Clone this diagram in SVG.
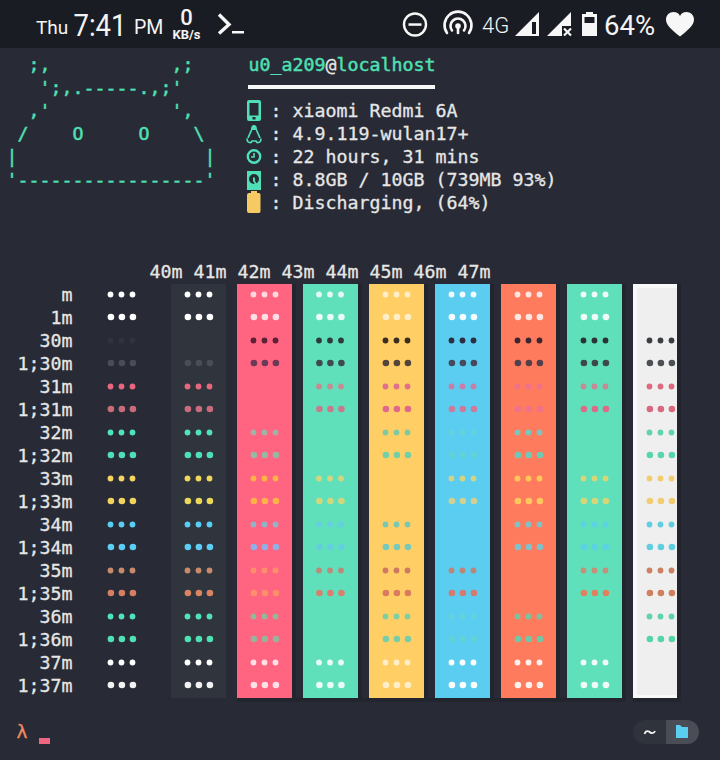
<svg xmlns="http://www.w3.org/2000/svg" xmlns:xlink="http://www.w3.org/1999/xlink" width="720" height="760" viewBox="0 0 720 760">
<style>
text{font-family:"DejaVu Sans Mono","Liberation Mono",monospace;font-size:18.27px;fill:#e6e6e6;stroke:#e6e6e6;stroke-width:.3px;white-space:pre}
.g{fill:#4fe0b5;stroke:#4fe0b5;stroke-width:.45px}
.s{font-family:Roboto,"Liberation Sans",sans-serif;fill:#f4f4f4;stroke:none}
.r{text-anchor:end}
.ic{fill:#4fe0b5}
.w{fill:#f7f7f7}
.wl{fill:none;stroke:#f7f7f7}
</style>
<defs>
<g id="a"><circle cx="-11" r="2.9"/><circle r="2.9"/><circle cx="11" r="2.9"/></g>
<g id="b"><circle cx="-10.6" r="3.300"/><circle cx="0.4" r="3.300"/><circle cx="11.4" r="3.300"/></g>
</defs>
<rect width="720" height="760" fill="#282b36"/>
<rect width="720" height="48" fill="#1a1c23"/>

<g id="statusbar">
<text class="s" x="36" y="34" style="font-size:19px">Thu</text>
<text class="s" x="73.500" y="36" style="font-size:30.500px;font-weight:400" textLength="53" lengthAdjust="spacingAndGlyphs">7:41</text>
<text class="s" x="134" y="34" style="font-size:19.500px">PM</text>
<text class="s" x="186.500" y="25" text-anchor="middle" style="font-size:22px;font-weight:500">0</text>
<text class="s" x="186.500" y="38.500" text-anchor="middle" style="font-size:13px;font-weight:700">KB/s</text>
<path class="wl" stroke-width="3.400" d="M219 14.500L229 24.500L219 33.500"/>
<rect class="w" x="232" y="31" width="12" height="2.500"/>
<circle class="wl" cx="415" cy="24.500" r="11" stroke-width="2.400"/>
<rect class="w" x="408.500" y="23.300" width="13" height="2.500"/>
<g class="wl" stroke-width="2.600" stroke-linecap="round">
<path d="M447 33A13.500 13.500 0 1 1 469 33"/>
<path d="M452 30.500A7.500 7.500 0 1 1 464 30.500"/>
<circle cx="458" cy="26" r="1.500"/>
<path d="M458 26V33"/>
</g>
<text class="s" x="482" y="33" style="font-size:22px;font-weight:300">4G</text>
<path class="w" d="M515 36L539 12V36Z"/>
<rect x="532" y="22" width="4" height="12" fill="#1a1c23"/>
<path class="w" d="M547 36L571 12V26H562V36Z"/>
<path class="wl" stroke-width="2.200" d="M564 28.500L571 35.500M571 28.500L564 35.500"/>
<path class="w" d="M586 12H593V14H597V36H582V14H586Z"/>
<rect x="584.500" y="17" width="10" height="6" fill="#1a1c23"/>
<text class="s" x="604" y="35" style="font-size:27.500px;font-weight:400">64%</text>
<path class="w" d="M680 36.500C672 30 666 25.500 666 19.500C666 15 669.500 12 673.500 12C676.500 12 679 13.500 680 16C681 13.500 683.500 12 686.500 12C690.500 12 694 15 694 19.500C694 25.500 688 30 680 36.500Z"/>
</g>

<g id="ascii-art">
<text class="g" x="6.500" y="71">  ;,           ,;</text>
<text class="g" x="6.500" y="94">   ';,.-----.,;'</text>
<text class="g" x="6.500" y="117">  ,'           ',</text>
<text class="g" x="6.500" y="140"> /    O     O    \</text>
<text class="g" x="6.500" y="163">|                 |</text>
<text class="g" x="6.500" y="186">'-----------------'</text>
</g>

<g id="sysinfo">
<text x="248.500" y="71"><tspan class="g">u0_a209</tspan>@<tspan class="g">localhost</tspan></text>
<rect class="w" x="248" y="85" width="187" height="4"/>
<text x="270.500" y="117">: xiaomi Redmi 6A</text>
<text x="270.500" y="140">: 4.9.119-wulan17+</text>
<text x="270.500" y="163">: 22 hours, 31 mins</text>
<text x="270.500" y="186">: 8.8GB / 10GB (739MB 93%)</text>
<text x="270.500" y="209">: Discharging, (64%)</text>
<path class="ic" fill-rule="evenodd" d="M249 100H259Q261 100 261 102V119Q261 121 259 121H249Q247 121 247 119V102Q247 100 249 100ZM249.500 103V115.500H258.500V103ZM252.500 117H255.500V119.500H252.500Z"/>
<path class="ic" d="M254 125C251.500 125 251 127.500 251 130H257C257 127.500 256.500 125 254 125Z"/>
<path d="M251.500 130L248 138M256.500 130L260 138" fill="none" stroke="#4fe0b5" stroke-width="1.700"/>
<path d="M247 138.500Q247 143 251 142.500L252 141H256L257 142.500Q261 143 261 138.500" fill="none" stroke="#4fe0b5" stroke-width="1.700"/>
<circle cx="254" cy="156.500" r="6.200" fill="none" stroke="#4fe0b5" stroke-width="2.400"/>
<path d="M254 153V157H251" fill="none" stroke="#4fe0b5" stroke-width="1.600"/>
<path class="ic" fill-rule="evenodd" d="M247 171H261V190H247ZM254 174A5 5 0 1 0 254 184A5 5 0 1 0 254 174Z"/>
<path class="ic" d="M253 177.500H255V181L258 186H256L253 181Z"/>
<path fill="#f5ca63" d="M251 191H257V193H259Q260.500 193 260.500 195V211Q260.500 213 259 213H249Q247 213 247 211V195Q247 193 249 193H251Z"/>
</g>

<g id="header">
<text x="149.500" y="278">40m</text><text x="193.500" y="278">41m</text><text x="237.500" y="278">42m</text><text x="281.500" y="278">43m</text><text x="325.500" y="278">44m</text><text x="369.500" y="278">45m</text><text x="413.500" y="278">46m</text><text x="457.500" y="278">47m</text>
</g>

<g id="row-labels">
<text class="r" x="72.500" y="301">m</text>
<text class="r" x="72.500" y="324">1m</text>
<text class="r" x="72.500" y="347">30m</text>
<text class="r" x="72.500" y="370">1;30m</text>
<text class="r" x="72.500" y="393">31m</text>
<text class="r" x="72.500" y="416">1;31m</text>
<text class="r" x="72.500" y="439">32m</text>
<text class="r" x="72.500" y="462">1;32m</text>
<text class="r" x="72.500" y="485">33m</text>
<text class="r" x="72.500" y="508">1;33m</text>
<text class="r" x="72.500" y="531">34m</text>
<text class="r" x="72.500" y="554">1;34m</text>
<text class="r" x="72.500" y="577">35m</text>
<text class="r" x="72.500" y="600">1;35m</text>
<text class="r" x="72.500" y="623">36m</text>
<text class="r" x="72.500" y="646">1;36m</text>
<text class="r" x="72.500" y="669">37m</text>
<text class="r" x="72.500" y="692">1;37m</text>
</g>

<g id="bars">
<g fill="#22252e"><rect x="292" y="284" width="4" height="418"/><rect x="358" y="284" width="4" height="418"/><rect x="424" y="284" width="4" height="418"/><rect x="490" y="284" width="4" height="418"/><rect x="556" y="284" width="4" height="418"/><rect x="622" y="284" width="4" height="418"/><rect x="677" y="284" width="4" height="418"/><rect x="237" y="698" width="385" height="4"/><rect x="633" y="698" width="48" height="4"/></g>
<rect x="171" y="284" width="55" height="414" fill="#2f343d"/>
<rect x="237" y="284" width="55" height="414" fill="#ff6480"/>
<rect x="303" y="284" width="55" height="414" fill="#5fe0ba"/>
<rect x="369" y="284" width="55" height="414" fill="#ffcf66"/>
<rect x="435" y="284" width="55" height="414" fill="#5bcdf0"/>
<rect x="501" y="284" width="55" height="414" fill="#ff7b5e"/>
<rect x="567" y="284" width="55" height="414" fill="#5fe0ba"/>
<rect x="633" y="284" width="44" height="414" fill="#f8f8f8"/>
<rect x="637" y="288" width="40" height="407" fill="#efefef"/>
</g>

<g id="dots">
<g transform="translate(121.500,0)">
<use xlink:href="#a" y="294.500" fill="#fff"/><use xlink:href="#b" y="317" fill="#fff"/><use xlink:href="#a" y="340.500" fill="#31343d"/><use xlink:href="#b" y="363" fill="#4a4d56"/><use xlink:href="#a" y="386.500" fill="#e7677f"/><use xlink:href="#b" y="409" fill="#c86c7c"/><use xlink:href="#a" y="432.500" fill="#4fe3b8"/><use xlink:href="#b" y="455" fill="#4fdfb8"/><use xlink:href="#a" y="478.500" fill="#f5d45f"/><use xlink:href="#b" y="501" fill="#f3d35b"/><use xlink:href="#a" y="524.500" fill="#58cef5"/><use xlink:href="#b" y="547" fill="#5ccdf5"/><use xlink:href="#a" y="570.500" fill="#c98a6a"/><use xlink:href="#b" y="593" fill="#d77f62"/><use xlink:href="#a" y="616.500" fill="#4fe3b8"/><use xlink:href="#b" y="639" fill="#4fe0b4"/><use xlink:href="#a" y="662.500" fill="#fff"/><use xlink:href="#b" y="685" fill="#f2f2f2"/>
</g>
<g transform="translate(198.500,0)">
<use xlink:href="#a" y="294.500" fill="#fff"/><use xlink:href="#b" y="317" fill="#fff"/><use xlink:href="#b" y="363" fill="#4a4d56"/><use xlink:href="#a" y="386.500" fill="#e7677f"/><use xlink:href="#b" y="409" fill="#c86c7c"/><use xlink:href="#a" y="432.500" fill="#4fe3b8"/><use xlink:href="#b" y="455" fill="#4fdfb8"/><use xlink:href="#a" y="478.500" fill="#f0d65a"/><use xlink:href="#b" y="501" fill="#ecd858"/><use xlink:href="#a" y="524.500" fill="#58cef5"/><use xlink:href="#b" y="547" fill="#5ccdf5"/><use xlink:href="#a" y="570.500" fill="#c98a6a"/><use xlink:href="#b" y="593" fill="#d98460"/><use xlink:href="#a" y="616.500" fill="#4fe3b8"/><use xlink:href="#b" y="639" fill="#4fe0b4"/><use xlink:href="#a" y="662.500" fill="#fff"/><use xlink:href="#b" y="685" fill="#f2f2f2"/>
</g>
<g transform="translate(264.500,0)">
<use xlink:href="#a" y="294.500" fill="#ffd8e0"/><use xlink:href="#b" y="317" fill="#ffdfe5"/><use xlink:href="#a" y="340.500" fill="#5a2237"/><use xlink:href="#b" y="363" fill="#6b3a58"/><use xlink:href="#a" y="432.500" fill="#a0b2a6"/><use xlink:href="#b" y="455" fill="#94b8a2"/><use xlink:href="#a" y="478.500" fill="#ffb347"/><use xlink:href="#b" y="501" fill="#ffb347"/><use xlink:href="#a" y="524.500" fill="#8fb4c8"/><use xlink:href="#b" y="547" fill="#90b0e8"/><use xlink:href="#a" y="570.500" fill="#ff8f6a"/><use xlink:href="#b" y="593" fill="#ff8f6a"/><use xlink:href="#a" y="616.500" fill="#92b89c"/><use xlink:href="#b" y="639" fill="#98b39b"/><use xlink:href="#a" y="662.500" fill="#ffe0e6"/><use xlink:href="#b" y="685" fill="#ffe0e6"/>
</g>
<g transform="translate(330,0)">
<use xlink:href="#a" y="294.500" fill="#e5f8f2"/><use xlink:href="#b" y="317" fill="#eafaf5"/><use xlink:href="#a" y="340.500" fill="#2f3a3f"/><use xlink:href="#b" y="363" fill="#3f4a50"/><use xlink:href="#a" y="386.500" fill="#c78c93"/><use xlink:href="#b" y="409" fill="#c87a8c"/><use xlink:href="#a" y="478.500" fill="#d3d67c"/><use xlink:href="#b" y="501" fill="#d3d67c"/><use xlink:href="#a" y="524.500" fill="#64cfe0"/><use xlink:href="#b" y="547" fill="#62d0dc"/><use xlink:href="#a" y="570.500" fill="#ba8a7a"/><use xlink:href="#b" y="593" fill="#d8806e"/><use xlink:href="#a" y="662.500" fill="#eafaf5"/><use xlink:href="#b" y="685" fill="#eafaf5"/>
</g>
<g transform="translate(396.500,0)">
<use xlink:href="#a" y="294.500" fill="#ffeec8"/><use xlink:href="#b" y="317" fill="#ffeec8"/><use xlink:href="#a" y="340.500" fill="#3a2d20"/><use xlink:href="#b" y="363" fill="#54453a"/><use xlink:href="#a" y="386.500" fill="#e2708a"/><use xlink:href="#b" y="409" fill="#e0688a"/><use xlink:href="#a" y="432.500" fill="#80c9a0"/><use xlink:href="#b" y="455" fill="#74cfa6"/><use xlink:href="#a" y="524.500" fill="#78c8b4"/><use xlink:href="#b" y="547" fill="#78c9bc"/><use xlink:href="#a" y="570.500" fill="#cf7a60"/><use xlink:href="#b" y="593" fill="#db7a5e"/><use xlink:href="#a" y="616.500" fill="#7fcf9f"/><use xlink:href="#b" y="639" fill="#79cda6"/><use xlink:href="#a" y="662.500" fill="#ffeec8"/><use xlink:href="#b" y="685" fill="#ffeec8"/>
</g>
<g transform="translate(462.500,0)">
<use xlink:href="#a" y="294.500" fill="#f2fbff"/><use xlink:href="#b" y="317" fill="#f5fcff"/><use xlink:href="#a" y="340.500" fill="#2c2e42"/><use xlink:href="#b" y="363" fill="#474a5c"/><use xlink:href="#a" y="386.500" fill="#c97ea8"/><use xlink:href="#b" y="409" fill="#ce7a9c"/><use xlink:href="#a" y="432.500" fill="#62d2dc"/><use xlink:href="#b" y="455" fill="#60d2d8"/><use xlink:href="#a" y="478.500" fill="#d2d288"/><use xlink:href="#b" y="501" fill="#d0d090"/><use xlink:href="#a" y="570.500" fill="#bb8577"/><use xlink:href="#b" y="593" fill="#d47a70"/><use xlink:href="#a" y="616.500" fill="#62d2dc"/><use xlink:href="#b" y="639" fill="#60d2d8"/><use xlink:href="#a" y="662.500" fill="#fff"/><use xlink:href="#b" y="685" fill="#fff"/>
</g>
<g transform="translate(528.500,0)">
<use xlink:href="#a" y="294.500" fill="#ffe6e0"/><use xlink:href="#b" y="317" fill="#ffe6e0"/><use xlink:href="#a" y="340.500" fill="#3a2530"/><use xlink:href="#b" y="363" fill="#54404a"/><use xlink:href="#a" y="386.500" fill="#f0718a"/><use xlink:href="#b" y="409" fill="#f0718a"/><use xlink:href="#a" y="432.500" fill="#77c7bc"/><use xlink:href="#b" y="455" fill="#6ecab8"/><use xlink:href="#a" y="478.500" fill="#ffc65c"/><use xlink:href="#b" y="501" fill="#ffc85e"/><use xlink:href="#a" y="524.500" fill="#7fc1c8"/><use xlink:href="#b" y="547" fill="#80c2cc"/><use xlink:href="#a" y="616.500" fill="#7cc2a0"/><use xlink:href="#b" y="639" fill="#6fc8a8"/><use xlink:href="#a" y="662.500" fill="#fff2ee"/><use xlink:href="#b" y="685" fill="#fff2ee"/>
</g>
<g transform="translate(594.500,0)">
<use xlink:href="#a" y="294.500" fill="#f0fbf7"/><use xlink:href="#b" y="317" fill="#f0fbf7"/><use xlink:href="#a" y="340.500" fill="#2b3238"/><use xlink:href="#b" y="363" fill="#3d484c"/><use xlink:href="#a" y="386.500" fill="#c78a94"/><use xlink:href="#b" y="409" fill="#de6a88"/><use xlink:href="#a" y="478.500" fill="#d8d578"/><use xlink:href="#b" y="501" fill="#d8d578"/><use xlink:href="#a" y="524.500" fill="#5dd2e4"/><use xlink:href="#b" y="547" fill="#5dd2e4"/><use xlink:href="#a" y="570.500" fill="#c98e78"/><use xlink:href="#b" y="593" fill="#e0805e"/><use xlink:href="#a" y="662.500" fill="#f0fbf7"/><use xlink:href="#b" y="685" fill="#f0fbf7"/>
</g>
<g transform="translate(660.500,0)">
<use xlink:href="#a" y="340.500" fill="#3a3d42"/><use xlink:href="#b" y="363" fill="#4c4f55"/><use xlink:href="#a" y="386.500" fill="#dd6a80"/><use xlink:href="#b" y="409" fill="#d86a80"/><use xlink:href="#a" y="432.500" fill="#60d4ae"/><use xlink:href="#b" y="455" fill="#58d4ae"/><use xlink:href="#a" y="478.500" fill="#f3cc70"/><use xlink:href="#b" y="501" fill="#f3cc70"/><use xlink:href="#a" y="524.500" fill="#5fcee0"/><use xlink:href="#b" y="547" fill="#5fcee0"/><use xlink:href="#a" y="570.500" fill="#cc8260"/><use xlink:href="#b" y="593" fill="#d08060"/><use xlink:href="#a" y="616.500" fill="#5dd4ae"/><use xlink:href="#b" y="639" fill="#55d4a8"/>
</g>
</g>

<g id="prompt">
<text x="16.500" y="738" style="fill:#f58a5f;stroke:#f58a5f">λ</text>
<rect x="39" y="738" width="11" height="6" fill="#f0657f"/>
<path d="M666 720H645A12 12 0 0 0 645 744H666Z" fill="#2f333b"/>
<path d="M666 720H687A12 12 0 0 1 687 744H666Z" fill="#4a4d55"/>
<path d="M644.500 734Q646 730 649 731.500Q651 733.500 653 733Q654.500 732.500 655 731" fill="none" stroke="#f4f4f4" stroke-width="1.800"/>
<path d="M676 725H680L682 727H688V738H676Z" fill="#5bcdf0"/>
</g>
</svg>
